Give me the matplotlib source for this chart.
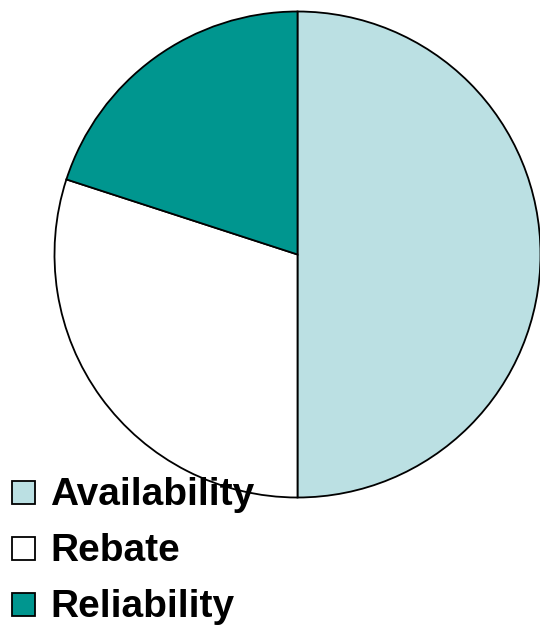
import matplotlib
matplotlib.use("Agg")
import matplotlib.pyplot as plt
from matplotlib.patches import Rectangle

# Share of each category
labels = ["Availability", "Rebate", "Reliability"]
shares = [50, 30, 20]
colors = ["#BBE0E3", "#FFFFFF", "#00968F"]

W, H = 540, 627
fig = plt.figure(figsize=(W / 100, H / 100), dpi=100)
ax = fig.add_axes([0, 0, 1, 1])

ax.pie(shares, colors=colors, startangle=90, counterclock=False,
       center=(297.5, H - 254.5), radius=243,
       wedgeprops=dict(edgecolor="black", linewidth=1.3))

# pie() resets the limits, so pin the pixel frame afterwards
ax.set_xlim(0, W)
ax.set_ylim(0, H)
ax.set_aspect("equal")
ax.axis("off")

# legend drawn by hand, one row per category
for i, (lab, col) in enumerate(zip(labels, colors)):
    base = H - (505 + 56 * i)
    ax.add_patch(Rectangle((12, base + 1.5), 23, 23, facecolor=col,
                           edgecolor="black", linewidth=1.3, zorder=5))
    ax.text(50, base, lab, fontsize=28, fontweight="bold",
            family="Liberation Sans", va="baseline", ha="left", zorder=6)

fig.savefig("out.png", dpi=100)
